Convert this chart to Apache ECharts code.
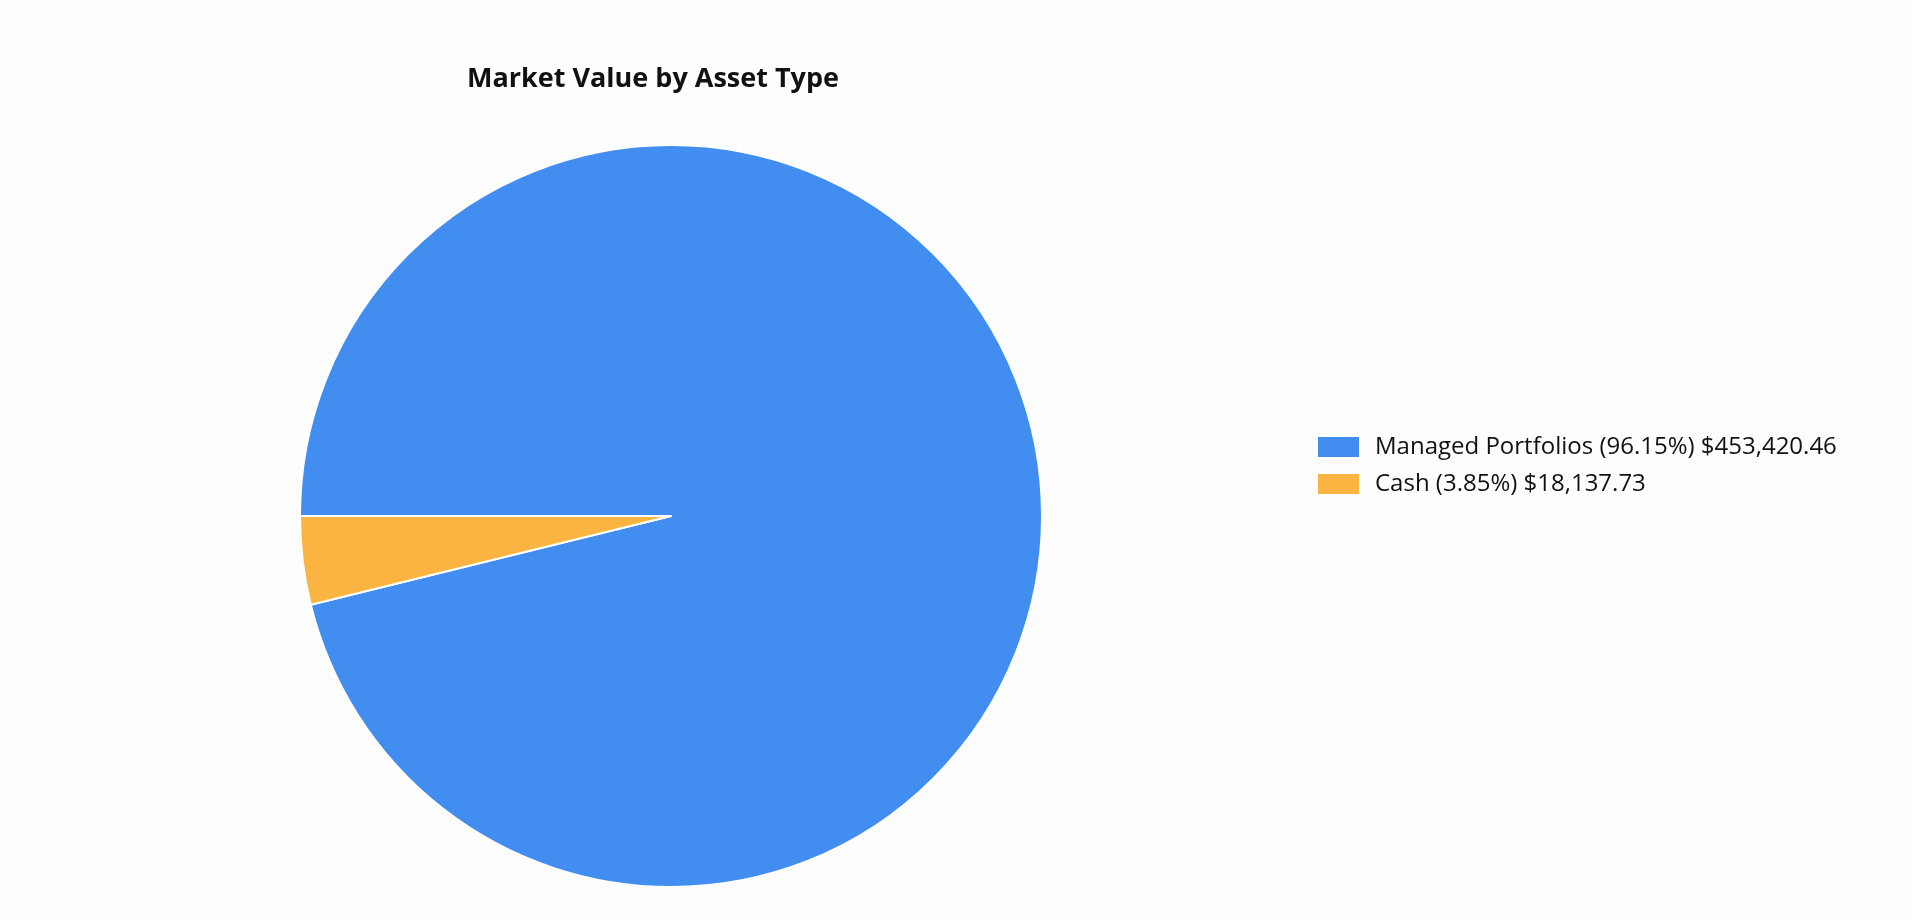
<!DOCTYPE html>
<html><head><meta charset="utf-8">
<script src="https://cdn.jsdelivr.net/npm/echarts@6/dist/echarts.min.js"></script>
<style>html,body{margin:0;padding:0;background:#fdfdfd;}#c{width:1912px;height:920px;}</style>
</head><body><div id="c"></div>
<script>
const categories = ["Managed Portfolios", "Cash"];
const values = [453420.46, 18137.73];
const percents = ["96.15%", "3.85%"];
const colors = ["#428df0", "#fbb442"];

const fmt = v => '$' + v.toLocaleString('en-US', {minimumFractionDigits: 2, maximumFractionDigits: 2});
const labels = {};
categories.forEach((c, i) => { labels[c] = c + ' (' + percents[i] + ') ' + fmt(values[i]); });

const chart = echarts.init(document.getElementById('c'));
chart.setOption({
  backgroundColor: '#fdfdfd',
  animation: false,
  title: {
    text: 'Market Value by Asset Type',
    left: 648, top: 61, textAlign: 'center',
    textStyle: {fontFamily: 'Open Sans', fontWeight: 'bold', fontSize: 27, color: '#111'}
  },
  legend: {
    orient: 'vertical', left: 1311, top: 430,
    itemWidth: 43, itemHeight: 22, itemGap: 13,
    icon: 'rect',
    textStyle: {fontFamily: 'Open Sans', fontSize: 24, color: '#111', padding: [0,0,0,10]},
    formatter: n => labels[n],
    data: categories
  },
  series: [{
    type: 'pie',
    center: [671, 516],
    radius: [0, 371],
    startAngle: 180,
    clockwise: true,
    label: {show: false},
    labelLine: {show: false},
    itemStyle: {borderColor: '#ffffff', borderWidth: 2},
    data: categories.map((c, i) => ({name: c, value: values[i], itemStyle: {color: colors[i]}}))
  }]
});
</script></body></html>
